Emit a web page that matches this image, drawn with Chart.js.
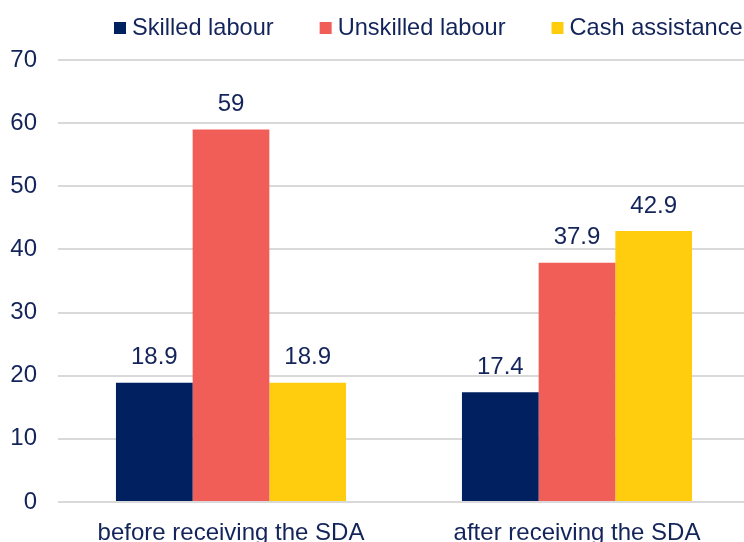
<!DOCTYPE html>
<html>
<head>
<meta charset="utf-8">
<script src="https://cdn.jsdelivr.net/npm/chart.js@4/dist/chart.umd.min.js"></script>
<style>
  html, body { margin: 0; padding: 0; background: #ffffff; }
  #wrap { width: 744px; height: 542px; position: relative; }
</style>
</head>
<body>
<div id="wrap"><canvas id="c" width="744" height="542"></canvas></div>
<script>
const categories = ['before receiving the SDA', 'after receiving the SDA'];
const seriesNames = ['Skilled labour', 'Unskilled labour', 'Cash assistance'];
const skilledLabour = [18.9, 17.4];
const unskilledLabour = [59, 37.9];
const cashAssistance = [18.9, 42.9];
const yTickMin = 0, yTickMax = 70, yTickStep = 10;

const seriesColors = ['#002060', '#F15E58', '#FFCD0D'];
const textColor = '#13245A';
const fontFamily = '"Liberation Sans", Arial, sans-serif';
const fontSize = 24;
const legendFontSize = 23.6;

const valueLabels = {
  id: 'valueLabels',
  afterDatasetsDraw(chart) {
    const ctx = chart.ctx;
    ctx.save();
    ctx.font = fontSize + 'px ' + fontFamily;
    ctx.fillStyle = textColor;
    ctx.textAlign = 'center';
    ctx.textBaseline = 'middle';
    chart.data.datasets.forEach((ds, i) => {
      const meta = chart.getDatasetMeta(i);
      meta.data.forEach((el, j) => {
        ctx.fillText(String(ds.data[j]), el.x, el.y - 25);
      });
    });
    ctx.restore();
  }
};

const topLegend = {
  id: 'topLegend',
  afterDraw(chart) {
    const ctx = chart.ctx;
    ctx.save();
    ctx.font = legendFontSize + 'px ' + fontFamily;
    ctx.textBaseline = 'alphabetic';
    ctx.textAlign = 'left';
    let x = 114;
    const baseline = 35;
    const boxTop = 22;
    const box = 12;
    chart.data.datasets.forEach((ds) => {
      ctx.fillStyle = ds.backgroundColor;
      ctx.fillRect(x, boxTop, box, box);
      ctx.fillStyle = textColor;
      ctx.fillText(ds.label, x + box + 6, baseline);
      x += box + 6 + ctx.measureText(ds.label).width + 46;
    });
    ctx.restore();
  }
};

// The plot area in the reference runs a few pixels past the right edge of the picture.
const extendRight = {
  id: 'extendRight',
  afterLayout(chart) {
    const xs = chart.scales.x;
    const newRight = 750;
    xs.right = newRight;
    xs.width = newRight - xs.left;
    xs.configure();
    chart.chartArea.right = newRight;
    chart.chartArea.width = newRight - chart.chartArea.left;
  }
};

new Chart(document.getElementById('c'), {
  type: 'bar',
  data: {
    labels: categories,
    datasets: [
      { label: seriesNames[0], data: skilledLabour, backgroundColor: seriesColors[0] },
      { label: seriesNames[1], data: unskilledLabour, backgroundColor: seriesColors[1] },
      { label: seriesNames[2], data: cashAssistance, backgroundColor: seriesColors[2] }
    ]
  },
  options: {
    responsive: false,
    animation: false,
    devicePixelRatio: 1,
    layout: { padding: { left: 10, right: 0, top: 60, bottom: 0 } },
    datasets: { bar: { categoryPercentage: 0.665, barPercentage: 1.0, borderWidth: 0 } },
    plugins: {
      legend: { display: false },
      tooltip: { enabled: false }
    },
    scales: {
      x: {
        grid: { display: false, drawTicks: false },
        border: { display: false },
        ticks: {
          color: textColor,
          font: { family: fontFamily, size: fontSize, lineHeight: 1.0 },
          padding: 19,
          maxRotation: 0
        },
        afterFit(scale) { scale.height = 40; }
      },
      y: {
        min: yTickMin,
        max: yTickMax,
        grid: { color: '#D9D9D9', lineWidth: 2, drawTicks: false },
        border: { display: false },
        ticks: {
          stepSize: yTickStep,
          color: textColor,
          font: { family: fontFamily, size: fontSize },
          padding: 21
        },
        afterFit(scale) { scale.width = 48; }
      }
    }
  },
  plugins: [extendRight, valueLabels, topLegend]
});
</script>
</body>
</html>
